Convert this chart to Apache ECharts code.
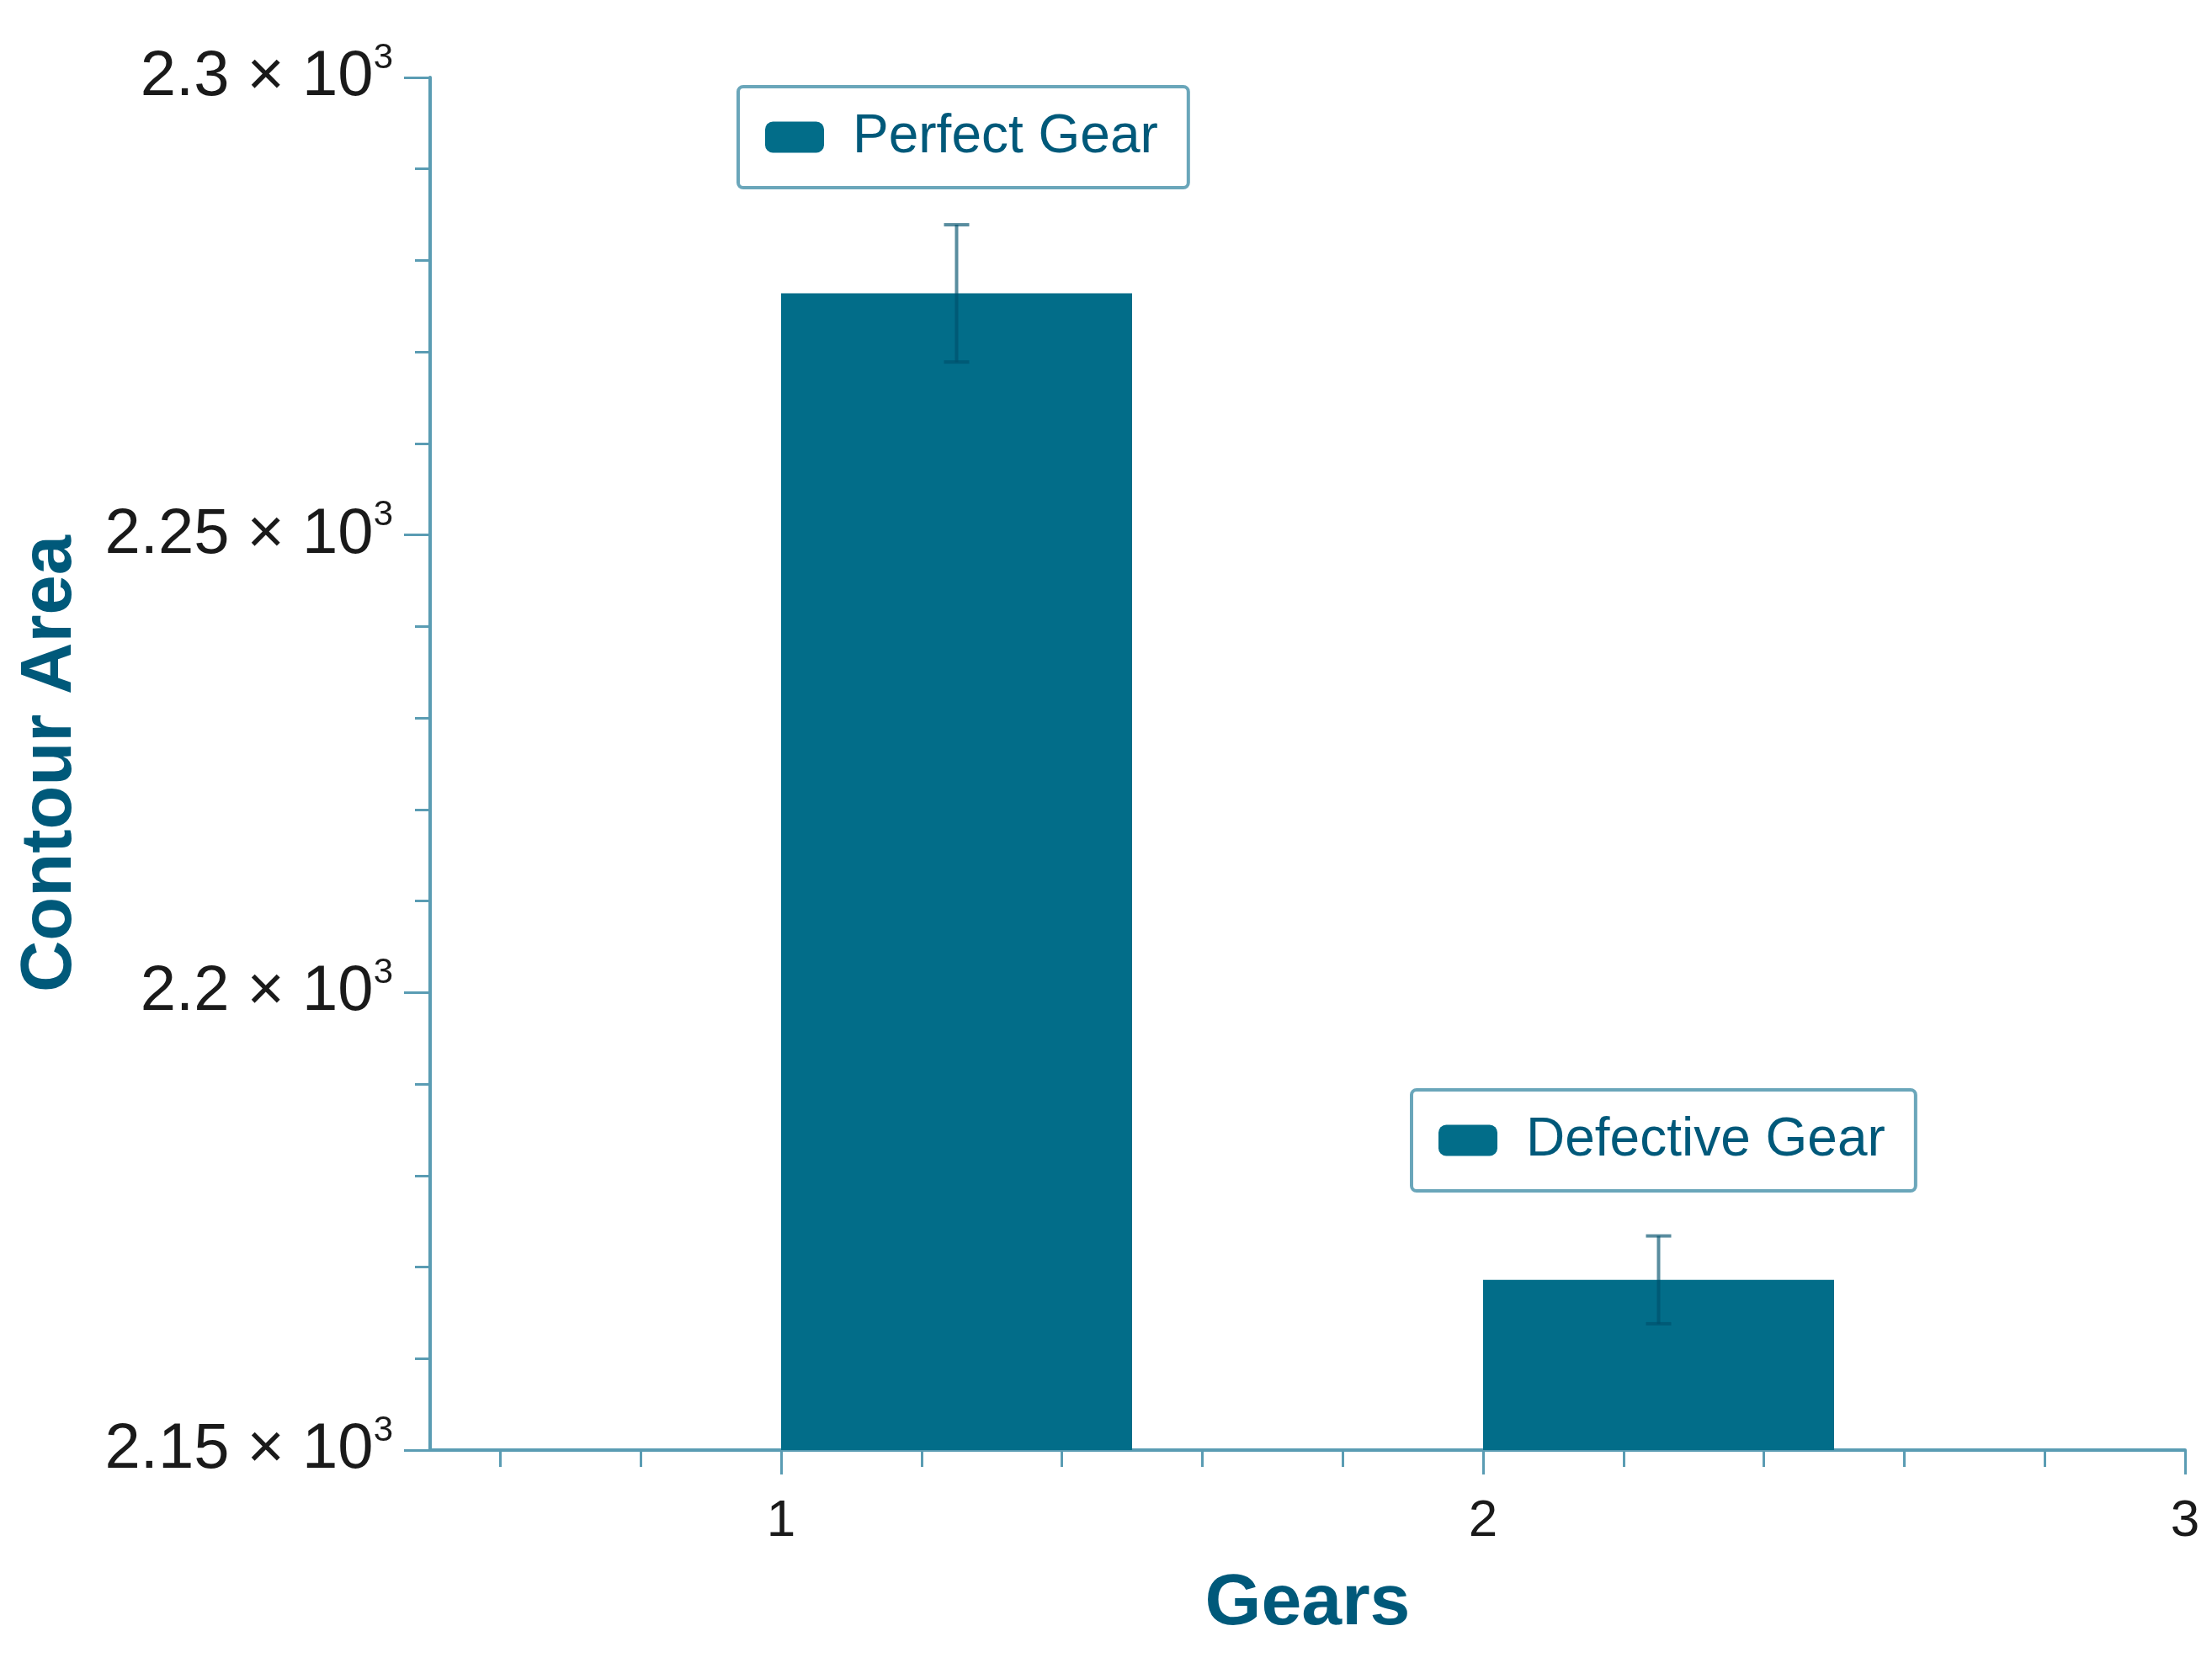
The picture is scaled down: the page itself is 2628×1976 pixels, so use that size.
<!DOCTYPE html>
<html>
<head>
<meta charset="utf-8">
<title>Contour Area of Gears</title>
<script src="https://cdn.jsdelivr.net/npm/echarts@6/dist/echarts.min.js"></script>
<style>
  html, body { margin: 0; padding: 0; background: #fff; }
  #chart { width: 2628px; height: 1976px; }
</style>
</head>
<body>
<div id="chart"></div>
<script>
// data
var gearNames = ['Perfect Gear', 'Defective Gear'];
var gearX = [1, 2];
var contourArea = [2276.4, 2168.6];
var contourErr = [7.5, 4.8];
var yTicks = [2150, 2200, 2250, 2300];
var xTicks = [1, 2, 3];
var xMinorTicks = [0.6, 0.8, 1.2, 1.4, 1.6, 1.8, 2.2, 2.4, 2.6, 2.8];

var barSpan = 0.5;   // bar runs from x to x + barSpan
var capHalf = 15;    // px
var barColor = '#026d89';
var axisColor = '#5a9cb3';
var titleColor = '#00597a';
var font = '"Liberation Sans", Arial, sans-serif';

var myChart = echarts.init(document.getElementById('chart'));

function renderGear(params, api) {
    var x = api.value(0);
    var y = api.value(1);
    var e = api.value(2);
    var base = api.coord([x, yTicks[0]]);
    var top = api.coord([x + barSpan, y]);
    var xc = api.coord([x + barSpan / 2, y])[0];
    var yHi = api.coord([x, y + e])[1];
    var yLo = api.coord([x, y - e])[1];
    var lineStyle = { stroke: '#00506c', lineWidth: 4, opacity: 0.65 };
    return {
        type: 'group',
        children: [
            {
                type: 'rect',
                shape: { x: base[0], y: top[1], width: top[0] - base[0], height: base[1] - top[1] },
                style: { fill: barColor }
            },
            { type: 'line', shape: { x1: xc, y1: yHi, x2: xc, y2: yLo }, style: lineStyle },
            { type: 'line', shape: { x1: xc - capHalf, y1: yHi, x2: xc + capHalf, y2: yHi }, style: lineStyle },
            { type: 'line', shape: { x1: xc - capHalf, y1: yLo, x2: xc + capHalf, y2: yLo }, style: lineStyle }
        ]
    };
}

function legendFor(name, left, top) {
    return {
        data: [name],
        left: left,
        top: top,
        icon: 'roundRect',
        itemWidth: 70,
        itemHeight: 37,
        selectedMode: false,
        borderColor: '#6aa6ba',
        borderWidth: 4,
        borderRadius: 6,
        padding: [28, 36, 28, 32],
        textStyle: {
            fontFamily: font,
            fontSize: 64,
            color: titleColor,
            padding: [0, 0, 0, 29]
        }
    };
}

var series = [];
for (var i = 0; i < gearNames.length; i++) {
    series.push({
        name: gearNames[i],
        type: 'custom',
        xAxisIndex: 0,
        yAxisIndex: 0,
        renderItem: renderGear,
        itemStyle: { color: barColor },
        encode: { x: 0, y: 1 },
        data: [[gearX[i], contourArea[i], contourErr[i]]],
        z: 3
    });
}

var option = {
    backgroundColor: '#ffffff',
    animation: false,
    grid: { left: 511, right: 32, top: 92, bottom: 253, containLabel: false },
    legend: [
        legendFor(gearNames[0], 877, 103),
        legendFor(gearNames[1], 1677, 1295)
    ],
    xAxis: [{
        type: 'value',
        min: 0.5,
        max: 3,
        position: 'bottom',
        name: 'Gears',
        nameLocation: 'middle',
        nameGap: 140,
        nameTextStyle: { fontFamily: font, fontSize: 86, fontWeight: 'bold', color: titleColor },
        axisLine: { show: true, lineStyle: { color: axisColor, width: 4 } },
        axisTick: { show: true, customValues: xTicks, length: 29, lineStyle: { color: axisColor, width: 3 } },
        axisLabel: { customValues: xTicks, margin: 54, fontFamily: font, fontSize: 62, color: '#1a1a1a' },
        splitLine: { show: false }
    }, {
        type: 'value',
        min: 0.5,
        max: 3,
        position: 'bottom',
        gridIndex: 0,
        axisLine: { show: false },
        axisTick: { show: true, customValues: xMinorTicks, length: 20, lineStyle: { color: axisColor, width: 3 } },
        axisLabel: { show: false },
        splitLine: { show: false }
    }],
    yAxis: [{
        type: 'value',
        min: yTicks[0],
        max: yTicks[yTicks.length - 1],
        interval: 50,
        name: 'Contour Area',
        nameLocation: 'middle',
        nameGap: 408,
        nameTextStyle: { fontFamily: font, fontSize: 85, fontWeight: 'bold', color: titleColor },
        axisLine: { show: true, lineStyle: { color: axisColor, width: 4 } },
        axisTick: { show: true, length: 31, lineStyle: { color: axisColor, width: 3 } },
        minorTick: { show: true, splitNumber: 5, length: 18, lineStyle: { color: axisColor, width: 3 } },
        axisLabel: {
            margin: 44,
            formatter: function (v) {
                return '{n|' + (v / 1000) + ' × 10}{s|3}';
            },
            rich: {
                n: { fontFamily: font, fontSize: 76, color: '#1a1a1a', lineHeight: 88 },
                s: { fontFamily: font, fontSize: 42, color: '#1a1a1a', verticalAlign: 'top', lineHeight: 44 }
            }
        },
        splitLine: { show: false }
    }],
    series: series
};

myChart.setOption(option);
</script>
</body>
</html>
